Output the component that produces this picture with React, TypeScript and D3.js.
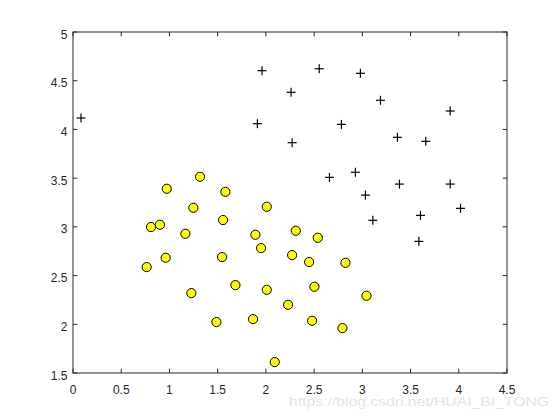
import React from "react";
import * as d3 from "d3";

const posX = [0.083, 1.96, 2.553, 2.98, 2.261, 3.188, 3.911, 1.912, 2.783, 2.272, 3.364, 3.658, 2.659, 2.928, 3.385, 3.911, 3.032, 4.018, 3.109, 3.603, 3.586];
const posY = [4.117, 4.603, 4.623, 4.576, 4.381, 4.299, 4.189, 4.059, 4.052, 3.864, 3.919, 3.878, 3.508, 3.560, 3.439, 3.439, 3.326, 3.19, 3.067, 3.118, 2.851];

const negX = [1.317, 0.972, 1.58, 1.248, 2.009, 0.809, 0.902, 1.556, 1.165, 1.891, 2.31, 2.538, 1.95, 0.961, 1.546, 2.272, 0.764, 2.448, 2.825, 1.684, 1.227, 2.009, 2.503, 3.043, 2.23, 1.487, 1.867, 2.479, 2.794, 2.092];
const negY = [3.514, 3.391, 3.36, 3.196, 3.206, 2.998, 3.022, 3.07, 2.929, 2.919, 2.96, 2.888, 2.782, 2.683, 2.69, 2.71, 2.587, 2.639, 2.631, 2.402, 2.32, 2.354, 2.385, 2.293, 2.2, 2.023, 2.053, 2.036, 1.961, 1.612];

const xTicks = [0, 0.5, 1, 1.5, 2, 2.5, 3, 3.5, 4, 4.5];
const yTicks = [1.5, 2, 2.5, 3, 3.5, 4, 4.5, 5];

export default function App() {
  const W = 560, H = 420;
  const L = 73, R = 507, T = 32, B = 373;
  const x = d3.scaleLinear().domain([0, 4.5]).range([L, R]);
  const y = d3.scaleLinear().domain([1.5, 5]).range([B, T]);
  const axisColor = "#262626";
  const tl = 4.3;
  const font = "'Liberation Sans', Arial, sans-serif";
  const cs = 4.5;
  return (
    <svg width={W} height={H} style={{ position: "absolute", left: 0, top: 0, background: "#fff" }}>
      <rect x={0} y={0} width={W} height={H} fill="#fff" />
      {xTicks.map((t) => (
        <g key={"xt" + t}>
          <line x1={x(t)} x2={x(t)} y1={B} y2={B - tl} stroke={axisColor} strokeWidth={1} />
          <line x1={x(t)} x2={x(t)} y1={T} y2={T + tl} stroke={axisColor} strokeWidth={1} />
          <text x={x(t)} y={393.5} textAnchor="middle" fontFamily={font} fontSize={12} fill={axisColor}>{String(t)}</text>
        </g>
      ))}
      {yTicks.map((t) => (
        <g key={"yt" + t}>
          <line x1={L} x2={L + tl} y1={y(t)} y2={y(t)} stroke={axisColor} strokeWidth={1} />
          <line x1={R} x2={R - tl} y1={y(t)} y2={y(t)} stroke={axisColor} strokeWidth={1} />
          <text x={67.5} y={y(t) + 6.5} textAnchor="end" fontFamily={font} fontSize={12} fill={axisColor}>{String(t)}</text>
        </g>
      ))}
      <rect x={L} y={T} width={R - L} height={B - T} fill="none" stroke={axisColor} strokeWidth={1} />
      {posX.map((v, i) => (
        <g key={"p" + i}>
          <line x1={x(v) - cs} x2={x(v) + cs} y1={y(posY[i])} y2={y(posY[i])} stroke="#000" strokeWidth={1.2} />
          <line x1={x(v)} x2={x(v)} y1={y(posY[i]) - cs} y2={y(posY[i]) + cs} stroke="#000" strokeWidth={1.2} />
        </g>
      ))}
      {negX.map((v, i) => (
        <circle key={"n" + i} cx={x(v)} cy={y(negY[i])} r={4.6} fill="#ffff00" stroke="#000" strokeWidth={1} />
      ))}
      <text x={289} y={406} fontFamily={font} fontSize={13} fill="#e4e4e4" textLength={260} lengthAdjust="spacingAndGlyphs">https://blog.csdn.net/HUAI_BI_TONG</text>
    </svg>
  );
}
